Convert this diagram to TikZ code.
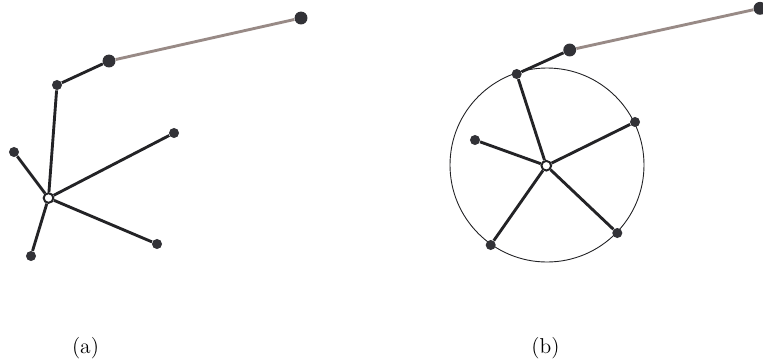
\documentclass[tikz,border=0pt]{standalone}
\usepackage{amsmath,amssymb}
\usepackage{tikz}
\usetikzlibrary{shapes,arrows,positioning,calc}

\definecolor{dotgrey}{RGB}{50,50,55}
\definecolor{linkgrey}{RGB}{35,35,38}
\definecolor{tailgrey}{RGB}{152,138,134}

\tikzset{
	dot/.style={circle,fill=dotgrey,inner sep=0pt,minimum size=5.6pt},
	bigdot/.style={circle,fill=dotgrey,inner sep=0pt,minimum size=7.2pt},
	hub/.style={circle,draw=linkgrey,fill=white,line width=1.1pt,inner sep=0pt,minimum size=5.4pt},
	link/.style={line width=1.6pt,draw=linkgrey},
	tail/.style={line width=1.6pt,draw=tailgrey},
	caption/.style={font=\large}
}

\begin{document}
\begin{tikzpicture}[x=0.0196cm,y=-0.0196cm]
	\useasboundingbox (0,0) rectangle (763,362);
	% (a) star
	\node[hub] (ha) at (48.5,198) {};
	\node[dot] (a1) at (14,152) {};
	\node[dot] (a2) at (31,256) {};
	\node[dot] (a3) at (174,133) {};
	\node[dot] (a4) at (157,244) {};
	\node[dot] (a5) at (57,85) {};
	\node[bigdot] (a6) at (109,61) {};
	\node[bigdot] (a7) at (301,18) {};
	\foreach \n in {a1,a2,a3,a4,a5}
		\draw[link] (ha) -- (\n);
	\draw[link] (a5) -- (a6);
	\draw[tail] (a6) -- (a7);
	\node[caption] (la) at (85.5,348) {(a)};
	% (b) star with circle
	\draw[line width=0.5pt,draw=linkgrey] (547,165) circle (97);
	\node[hub] (hb) at (546.3,165.7) {};
	\node[dot] (b1) at (516.7,74) {};
	\node[dot] (b2) at (475,140) {};
	\node[dot] (b3) at (635,122) {};
	\node[dot] (b4) at (490.7,245) {};
	\node[dot] (b5) at (617.3,233) {};
	\node[bigdot] (b6) at (569.7,50) {};
	\node[bigdot] (b7) at (760,8.3) {};
	\foreach \n in {b1,b2,b3,b4,b5}
		\draw[link] (hb) -- (\n);
	\draw[link] (b1) -- (b6);
	\draw[tail] (b6) -- (b7);
	\node[caption] (lb) at (545.5,348) {(b)};
\end{tikzpicture}
\end{document}
